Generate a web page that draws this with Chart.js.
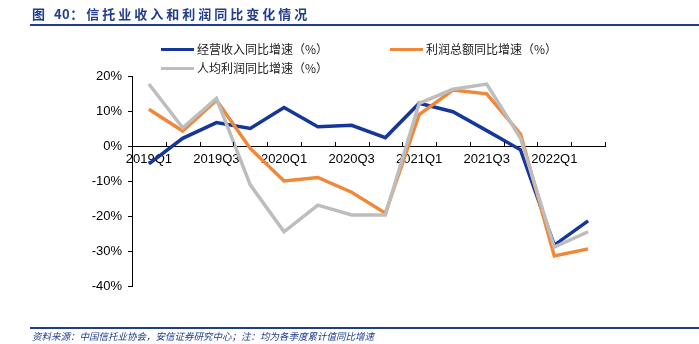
<!DOCTYPE html>
<html>
<head>
<meta charset="utf-8">
<script src="https://cdn.jsdelivr.net/npm/chart.js@4"></script>
<style>
  html, body { margin: 0; padding: 0; background: #fff; }
  #wrap { position: relative; width: 699px; height: 344px; overflow: hidden; }
  #chart { position: absolute; left: 0; top: 0; }
  .title { position: absolute; left: 32px; top: 4px; font: bold 13px "Noto Sans CJK SC", sans-serif; color: #1f3c8e; letter-spacing: 3px; white-space: nowrap; }
  .title span { letter-spacing: 0.5px; }
  .topline { position: absolute; left: 30px; right: 0; top: 24px; height: 2px; background: #1f3c8e; }
  .botline { position: absolute; left: 30px; right: 0; top: 327px; height: 1.5px; background: #1f3c8e; }
  .source { position: absolute; left: 32px; top: 329px; font: italic 9.5px "Noto Sans CJK SC", sans-serif; color: #1f3c8e; white-space: nowrap; }
  .lg { position: absolute; font: 12px "Noto Sans CJK SC", sans-serif; color: #222; white-space: nowrap; }
  .lg i { display: inline-block; width: 33px; height: 3.5px; vertical-align: middle; margin-right: 3px; position: relative; top: -1px; }
</style>
</head>
<body>
<div id="wrap">
  <canvas id="chart" width="699" height="344"></canvas>
  <div class="title">图 <span>40</span>：信托业收入和利润同比变化情况</div>
  <div class="topline"></div>
  <div id="legend"></div>
  <div class="botline"></div>
  <div class="source">资料来源：中国信托业协会，安信证券研究中心；注：均为各季度累计值同比增速</div>
</div>
<script>
    // quarters 2019Q1 - 2022Q2
    var quarters = ['2019Q1', '2019Q2', '2019Q3', '2019Q4', '2020Q1', '2020Q2', '2020Q3', '2020Q4',
                    '2021Q1', '2021Q2', '2021Q3', '2021Q4', '2022Q1', '2022Q2'];
    var revenueGrowth = [-5.1, 2.2, 6.7, 5.0, 11.0, 5.5, 5.9, 2.4, 12.2, 9.8, 4.4, -1.1, -28.3, -21.4];
    var profitGrowth = [10.5, 4.3, 13.1, -0.7, -10.0, -9.0, -13.2, -19.2, 9.0, 16.0, 14.9, 3.4, -31.4, -29.4];
    var perCapitaGrowth = [17.7, 5.2, 13.6, -11.1, -24.5, -16.9, -19.7, -19.7, 12.2, 16.2, 17.7, 2.2, -28.9, -24.5];
    var yTicks = [-40, -30, -20, -10, 0, 10, 20];

    var names = ['经营收入同比增速（%）', '利润总额同比增速（%）', '人均利润同比增速（%）'];
    var colors = ['#15379a', '#f0883a', '#bdbdbd'];

    // legend laid out like the original: two on the first row, one below
    var legendPos = [[161, 40], [390, 40], [161, 59]];
    var legendEl = document.getElementById('legend');
    names.forEach(function(n, i) {
        var d = document.createElement('div');
        d.className = 'lg';
        d.style.left = legendPos[i][0] + 'px';
        d.style.top = legendPos[i][1] + 'px';
        d.innerHTML = '<i style="background:' + colors[i] + '"></i>' + n;
        legendEl.appendChild(d);
    });

    // small tick marks on the zero line, pointing up, between categories
    var upTicks = {
        id: 'upTicks',
        afterDraw: function(chart) {
            var xs = chart.scales.x, ys = chart.scales.y;
            var ctx = chart.ctx;
            var y0 = ys.getPixelForValue(0);
            var n = quarters.length;
            var step = (xs.right - xs.left) / n;
            ctx.save();
            ctx.strokeStyle = '#000';
            ctx.lineWidth = 1;
            ctx.beginPath();
            for (var i = 1; i <= n; i++) {
                var x = Math.round(xs.left + i * step) + 0.5;
                ctx.moveTo(x, y0);
                ctx.lineTo(x, y0 - 4);
            }
            ctx.stroke();
            ctx.restore();
        }
    };

    var font = { family: '"Liberation Sans", Arial, sans-serif', size: 13 };

    new Chart(document.getElementById('chart'), {
        type: 'line',
        data: {
            labels: quarters,
            datasets: [
                { label: names[0], data: revenueGrowth, borderColor: colors[0], order: 3 },
                { label: names[1], data: profitGrowth, borderColor: colors[1], order: 2 },
                { label: names[2], data: perCapitaGrowth, borderColor: colors[2], order: 1 }
            ]
        },
        options: {
            responsive: false,
            animation: false,
            layout: { padding: { left: 0, top: 76, right: 94, bottom: 58 } },
            elements: {
                line: { borderWidth: 3.5, tension: 0 },
                point: { radius: 0 }
            },
            plugins: { legend: { display: false }, tooltip: { enabled: false } },
            scales: {
                x: {
                    type: 'category',
                    position: { y: 0 },
                    offset: true,
                    grid: { display: true, drawOnChartArea: false, drawTicks: false, offset: true },
                    border: { color: '#000', width: 1 },
                    ticks: {
                        color: '#000', font: font, padding: 6,
                        autoSkip: false, maxRotation: 0,
                        callback: function(v, i) { return i % 2 === 0 ? quarters[i] : ''; }
                    }
                },
                y: {
                    min: -40, max: 20,
                    afterBuildTicks: function(s) { s.ticks = yTicks.map(function(v) { return { value: v }; }); },
                    afterFit: function(s) { s.width = 132; },
                    grid: { drawOnChartArea: false, tickLength: 4, color: '#000' },
                    border: { color: '#000', width: 1 },
                    ticks: {
                        color: '#000', font: font, padding: 6,
                        callback: function(v) { return v + '%'; }
                    }
                }
            }
        },
        plugins: [upTicks]
    });
</script>
</body>
</html>
